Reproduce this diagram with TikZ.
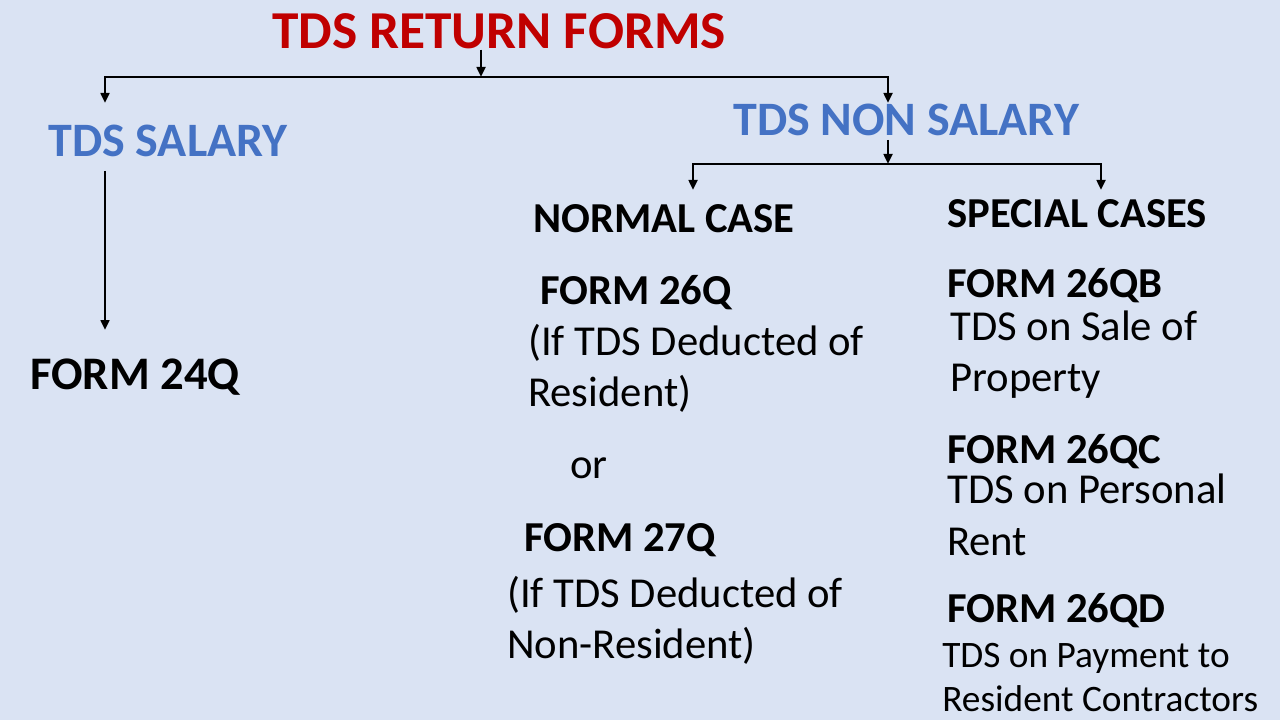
\documentclass[tikz,border=0pt]{standalone}
\usepackage{fontspec}
\setmainfont{Carlito}
\usepackage{xcolor}
\usetikzlibrary{arrows.meta}
\definecolor{slidebg}{RGB}{218,227,243}
\definecolor{titlered}{RGB}{192,0,0}
\definecolor{headblue}{RGB}{68,114,196}
\tikzset{
  txt/.style={anchor=base west, inner sep=0pt, align=left},
  heading/.style={txt, text=headblue, font=\bfseries\fontsize{36}{43}\selectfont},
  casehead/.style={txt, font=\bfseries\fontsize{32}{38}\selectfont},
  formname/.style={txt, font=\bfseries\fontsize{32}{38}\selectfont},
  formtext/.style={txt, font=\fontsize{32}{#1}\selectfont},
  formtext/.default=38.25,
  link/.style={line width=2pt},
}
\begin{document}
\begin{tikzpicture}[x=0.75pt, y=-0.75pt, >={Triangle[length=7.5pt,width=6.5pt]}]
\fill[slidebg] (0,0) rectangle (1280,720);
\useasboundingbox (0,0) rectangle (1280,720);
% main title
\node[anchor=base, inner sep=0pt, text=titlered, font=\bfseries\fontsize{40}{48}\selectfont] (title) at (499,49) {TDS RETURN FORMS};
% first line
\node[heading] (salary) at (48,157) {TDS SALARY};
\node[heading] (nonsalary) at (733,136) {TDS NON SALARY};
% split points
\coordinate (split) at (481,77);
\coordinate (splitL) at (105,77);
\coordinate (splitR) at (888,77);
\coordinate (salaryin) at (105,103);
\coordinate (nonsalaryin) at (888,103);
% arrows
\draw[link, ->] (split |- title.south) -- (split);
\draw[link, <->] (salaryin) -- (splitL) -- (splitR) -- (nonsalaryin);
% salary side
\node[casehead, font=\bfseries\fontsize{35}{42}\selectfont] (form24) at (30,389) {FORM 24Q};
\coordinate (salaryout) at (105,171);
\coordinate (form24in) at (105,330);
\draw[link, ->] (salaryout) -- (form24in);
% second line
\node[casehead] (normal) at (533,233) {NORMAL CASE};
\node[casehead] (special) at (947,228) {SPECIAL CASES};
\coordinate (nonsalaryout) at (888,140);
\coordinate (split2) at (888,164);
\coordinate (split2L) at (693,164);
\coordinate (split2R) at (1101,164);
\coordinate (normalin) at (693,190);
\coordinate (specialin) at (1101,190);
% arrows
\draw[link, ->] (nonsalaryout) -- (split2);
\draw[link, <->] (normalin) -- (split2L) -- (split2R) -- (specialin);
% normal case (base = last line)
\node[formname] (form26q) at (540,304) {FORM 26Q};
\node[formtext] (resident) at (528,406) {(If TDS Deducted of\\Resident)};
\node[formtext] (or) at (570,478) {or};
\node[formname] (form27q) at (524,551) {FORM 27Q};
\node[formtext] (nonresident) at (507,658) {(If TDS Deducted of\\Non-Resident)};
% special cases
\node[formname] (form26qb) at (947,297) {FORM 26QB};
\node[formtext] (sale) at (950,391) {TDS on Sale of\\Property};
\node[formname] (form26qc) at (947,463) {FORM 26QC};
\node[formtext=39] (rent) at (947,555) {TDS on Personal\\Rent};
\node[formname] (form26qd) at (947,622) {FORM 26QD};
\node[txt, font=\fontsize{28}{33}\selectfont] (contract) at (942,711) {TDS on Payment to\\Resident Contractors};
\end{tikzpicture}
\end{document}
